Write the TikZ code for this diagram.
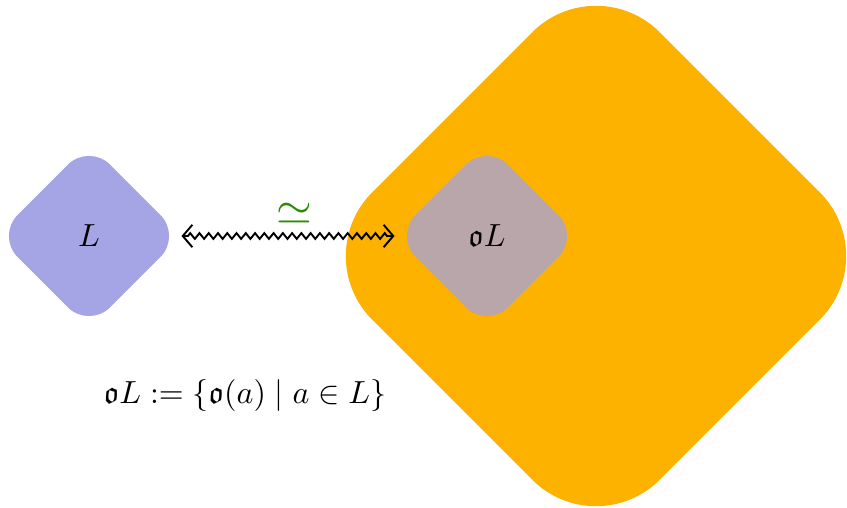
\documentclass[tikz,border=0pt]{standalone}
\usepackage{amsmath,amssymb}
\usetikzlibrary{arrows.meta,positioning,shapes.geometric,decorations.pathmorphing}

\definecolor{latticeblue}{RGB}{165,164,228}
\definecolor{ambientorange}{RGB}{253,178,0}
\definecolor{imagegray}{RGB}{185,166,170}
\definecolor{isogreen}{RGB}{40,140,0}

\begin{document}
\begin{tikzpicture}[
    x=0.011cm, y=-0.011cm,
    small/.style={diamond, draw=none, minimum size=2.035cm, rounded corners=0.33cm, inner sep=0pt, outer sep=0pt},
    big/.style={diamond, draw=none, minimum size=6.325cm, rounded corners=0.99cm, inner sep=0pt, outer sep=0pt},
    iso/.style={{Straight Barb[length=3pt, width=7pt]}-{Straight Barb[length=3pt, width=7pt]}, semithick, decorate,
        decoration={zigzag, segment length=2.9pt, amplitude=0.9pt, pre length=2pt, post length=2pt}},
    note/.style={text=isogreen, font=\Large}
]
\useasboundingbox (0,0) rectangle (847,507);

% Lattices
\node[big, fill=ambientorange] (amb) at (596,256) {};
\node[small, fill=latticeblue] (L) at (89,236) {$L$};
\node[small, fill=imagegray] (oL) at (487,236) {$\mathfrak{o}L$};

% Isomorphism
\draw[iso] (L) -- node[note, pos=0.53, above=0pt] (sim) {$\simeq$} (oL);

% Definition
\node (def) at (245,396) {$\mathfrak{o}L := \{\mathfrak{o}(a) \mid a \in L\}$};

\end{tikzpicture}
\end{document}
